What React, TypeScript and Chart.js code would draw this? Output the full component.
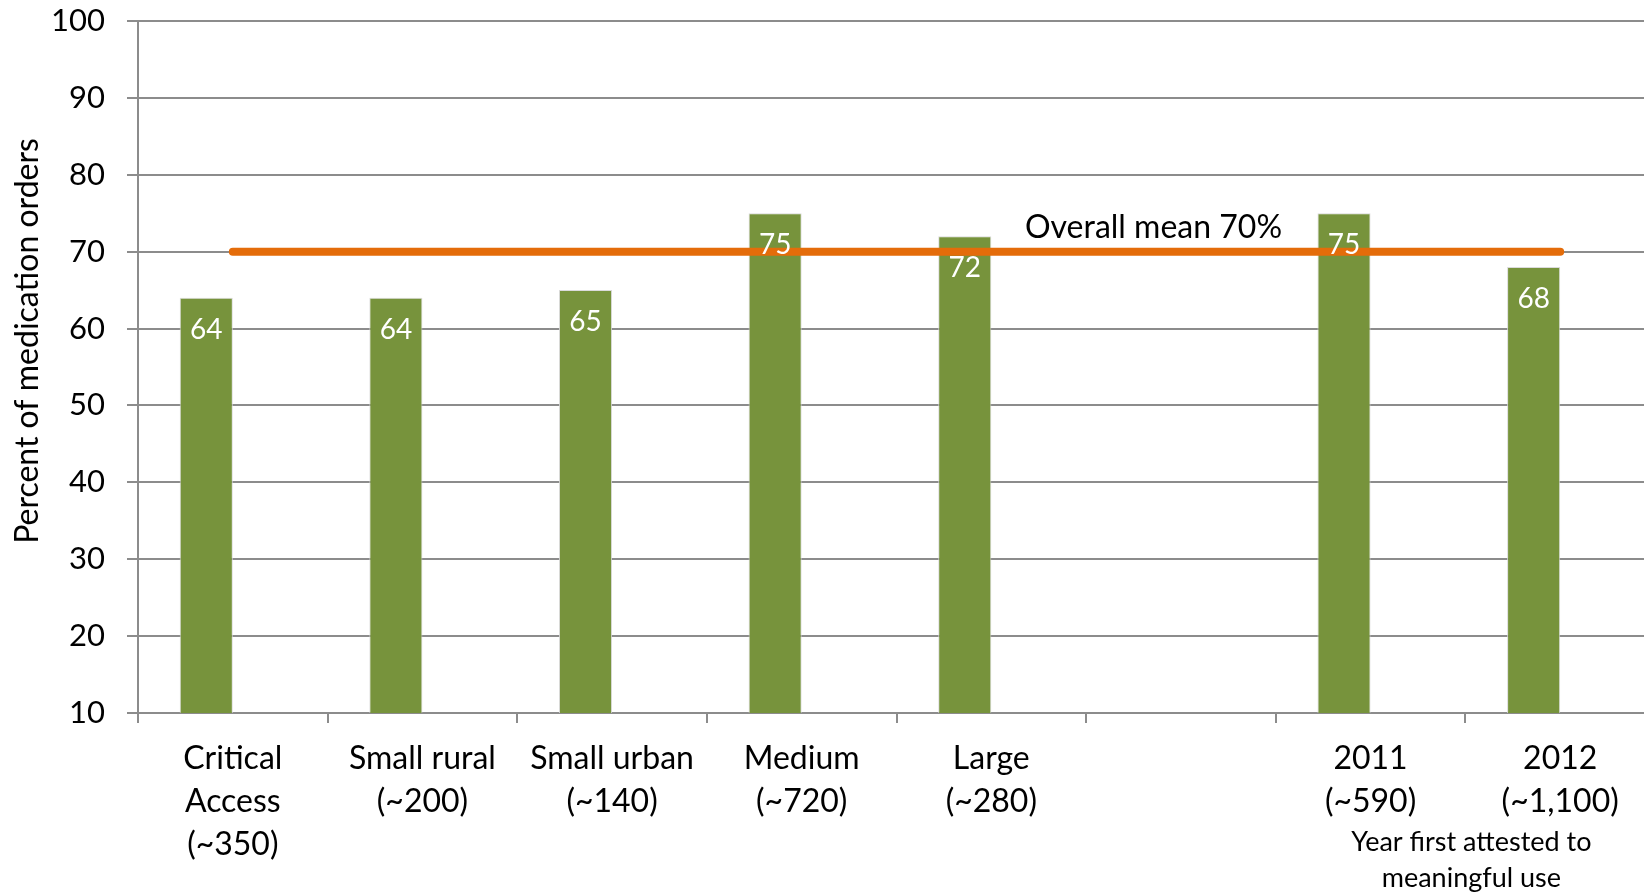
import React, { useEffect, useRef } from "react";
import { Chart, registerables } from "chart.js";

Chart.register(...registerables);

// Hospital groups (with approximate counts) and the share of medication orders
const categories: (string | string[])[] = [
  ["Critical", "Access", "(~350)"],
  ["Small rural", "(~200)"],
  ["Small urban", "(~140)"],
  ["Medium", "(~720)"],
  ["Large", "(~280)"],
  "",
  ["2011", "(~590)"],
  ["2012", "(~1,100)"],
];
const percentValues: (number | null)[] = [64, 64, 65, 75, 72, null, 75, 68];
const spacerValues: (number | null)[] = [null, null, null, null, null, null, null, null];
const overallMean = 70;
const meanValues: number[] = categories.map(() => overallMean);
const yTicks = { min: 10, max: 100, step: 10 };

const yTitle = "Percent of medication orders";
const meanLabel = "Overall mean 70%";
const yearNote = ["Year first attested to", "meaningful use"];

const FONT = "Lato, 'Open Sans', sans-serif";

const annotations = {
  id: "annotations",
  afterDatasetsDraw(chart: any) {
    const { ctx, scales } = chart;
    const meta = chart.getDatasetMeta(1);
    ctx.save();
    // value labels inside the bars
    ctx.fillStyle = "#ffffff";
    ctx.font = `28px ${FONT}`;
    ctx.textAlign = "center";
    ctx.textBaseline = "middle";
    meta.data.forEach((el: any, i: number) => {
      const v = percentValues[i];
      if (v == null) return;
      ctx.fillText(String(v), el.x, el.y + 32);
    });
    // mean line caption
    ctx.fillStyle = "#000000";
    ctx.font = `32px ${FONT}`;
    ctx.textAlign = "left";
    ctx.fillText(meanLabel, 1025, scales.y.getPixelForValue(overallMean) - 24);
    // note under the year groups
    ctx.font = `27px ${FONT}`;
    ctx.textAlign = "center";
    const noteX = (scales.x.getPixelForValue(6) + scales.x.getPixelForValue(7)) / 2 + 6;
    ctx.fillText(yearNote[0], noteX, 842);
    ctx.fillText(yearNote[1], noteX, 878);
    // rotated y-axis title
    ctx.font = `32px ${FONT}`;
    ctx.translate(28, 341);
    ctx.rotate(-Math.PI / 2);
    ctx.fillText(yTitle, 0, 0);
    ctx.restore();
  },
};

export default function App() {
  const canvasRef = useRef<HTMLCanvasElement | null>(null);

  useEffect(() => {
    if (!canvasRef.current) return;
    const chart = new Chart(canvasRef.current, {
      type: "bar",
      data: {
        labels: categories,
        datasets: [
          {
            type: "line",
            label: "Overall mean",
            data: meanValues,
            borderColor: "#E46C0A",
            borderWidth: 8,
            borderCapStyle: "round",
            pointRadius: 0,
            order: 0,
          } as any,
          {
            type: "bar",
            label: "Percent",
            data: percentValues,
            backgroundColor: "#77933C",
            borderColor: "rgba(215,215,215,0.9)",
            borderWidth: 1,
            categoryPercentage: 0.56,
            barPercentage: 1,
            order: 1,
          },
          {
            type: "bar",
            label: "",
            data: spacerValues,
            backgroundColor: "transparent",
            categoryPercentage: 0.56,
            barPercentage: 1,
            order: 2,
          },
        ],
      },
      options: {
        responsive: false,
        animation: false,
        layout: { padding: { top: 21, right: 5, left: 0, bottom: 0 } },
        plugins: { legend: { display: false }, tooltip: { enabled: false } },
        scales: {
          x: {
            grid: {
              display: true,
              drawOnChartArea: false,
              drawTicks: true,
              tickLength: 10,
              offset: true,
              color: "#8c8c8c",
              lineWidth: 2,
            },
            border: { color: "#8c8c8c", width: 2 },
            ticks: {
              color: "#000000",
              font: { family: FONT, size: 32, lineHeight: 1.34 },
              padding: 14,
              maxRotation: 0,
              autoSkip: false,
            },
            afterFit(scale: any) {
              scale.height = 179;
              scale.paddingLeft = 0;
              scale.paddingRight = 0;
            },
          },
          y: {
            min: yTicks.min,
            max: yTicks.max,
            grid: { color: "#8c8c8c", lineWidth: 2, tickLength: 11 },
            border: { color: "#8c8c8c", width: 2 },
            ticks: {
              stepSize: yTicks.step,
              color: "#000000",
              font: { family: FONT, size: 31 },
              padding: 22,
            },
            afterFit(scale: any) {
              scale.width = 138;
              scale.paddingTop = 0;
              scale.paddingBottom = 0;
            },
          },
        },
      },
      plugins: [annotations],
    });
    return () => chart.destroy();
  }, []);

  return (
    <div
      style={{
        position: "fixed",
        left: 0,
        top: 0,
        width: 1644,
        height: 892,
        overflow: "hidden",
        background: "#ffffff",
      }}
    >
      <canvas ref={canvasRef} width={1660} height={892} style={{ display: "block" }} />
    </div>
  );
}
